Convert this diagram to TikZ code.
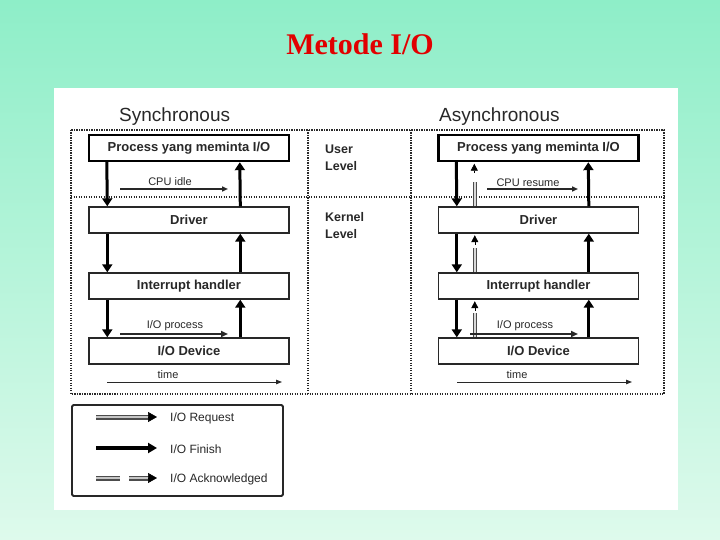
\documentclass[tikz,border=0pt]{standalone}
\usepackage{fontspec}
\setmainfont{Liberation Sans}
\newfontfamily\titlefont{Liberation Serif}
\usetikzlibrary{arrows.meta}
\definecolor{bgtop}{RGB}{142,238,200}
\definecolor{bgbot}{RGB}{222,250,236}
\definecolor{titlered}{RGB}{225,0,0}
\definecolor{ink}{RGB}{40,40,40}
\tikzset{
  layerbox/.style={draw=ink, line width=1.4pt, fill=white, minimum width=200pt, minimum height=26pt, inner sep=0pt, font=\bfseries\fontsize{13}{13}\selectfont, text=ink},
  procbox/.style={layerbox, line width=2.4pt, draw=black},
  dots/.style={draw=ink, line width=1.4pt, dash pattern=on 1.3pt off 1.2pt},
  fin/.style={draw=black, line width=3pt, -{Triangle[length=8pt,width=10pt]}},
  ackline/.style={draw=gray!60!black, double=gray!30, line width=1.1pt, double distance=1.8pt},
  reqline/.style={draw=gray!60!black, double=gray!45, line width=1.2pt, double distance=2.6pt},
  headonly/.style={draw=black, line width=0.6pt, -{Triangle[length=7pt,width=7pt]}},
  bighead/.style={draw=black, line width=0.6pt, -{Triangle[length=9pt,width=10pt]}},
  cpuarrow/.style={draw=ink, line width=1.5pt, -{Triangle[length=6pt,width=5pt]}},
  procarrow/.style={draw=ink, line width=2.2pt, -{Triangle[length=7pt,width=6pt]}},
  timearrow/.style={draw=ink, line width=1pt, -{Triangle[length=6pt,width=4.5pt]}},
  smalltext/.style={font=\fontsize{11}{11}\selectfont, text=ink, inner sep=0pt},
  legtext/.style={font=\fontsize{12}{12}\selectfont, text=ink, anchor=west, inner sep=0pt},
  leveltext/.style={font=\bfseries\fontsize{12.5}{17}\selectfont, text=ink, anchor=north west, align=left, inner sep=0pt},
  header/.style={font=\fontsize{19}{19}\selectfont, text=ink, anchor=west, inner sep=0pt}
}
\begin{document}
\begin{tikzpicture}[x=1pt,y=-1pt]
\useasboundingbox (0,0) rectangle (720,540);
\shade[top color=bgtop, bottom color=bgbot] (0,0) rectangle (720,540);
\fill[white] (54,88) rectangle (678,510);

\node[font=\titlefont\bfseries\fontsize{30}{30}\selectfont, text=titlered] (title) at (360,44) {Metode I/O};

\node[header] (synch) at (119,117) {Synchronous};
\node[header] (asynch) at (439,117) {Asynchronous};

% dotted frame
\draw[dots] (71,130) rectangle (664,394);
\draw[dots] (308,130) -- (308,394);
\draw[dots] (411,130) -- (411,394);
\draw[dots] (71,197) -- (664,197);

\node[leveltext] (ul) at (325,145) {User\\Level};
\node[leveltext] (kl) at (325,212) {Kernel\\Level};

% synchronous boxes
\node[procbox]  (sp) at (189,148) {Process yang meminta I/O};
\node[layerbox] (sd) at (189,220) {Driver};
\node[layerbox] (si) at (189,286) {Interrupt handler};
\node[layerbox] (so) at (189,351) {I/O Device};

% asynchronous boxes
\node[procbox]  (ap) at (538.5,148) {Process yang meminta I/O};
\node[layerbox] (ad) at (538.5,220) {Driver};
\node[layerbox] (ai) at (538.5,286) {Interrupt handler};
\node[layerbox] (ao) at (538.5,351) {I/O Device};

% synchronous arrows
\foreach \a/\b in {sp/sd, sd/si, si/so} {
  \draw[fin] ([xshift=19pt]\a.south west) -- ([xshift=19pt]\b.north west);
  \draw[fin] ([xshift=152pt]\b.north west) -- ([xshift=152pt]\a.south west);
}
% asynchronous arrows
\foreach \a/\b in {ap/ad, ad/ai, ai/ao} {
  \draw[fin] ([xshift=19pt]\a.south west) -- ([xshift=19pt]\b.north west);
  \draw[fin] ([xshift=151pt]\b.north west) -- ([xshift=151pt]\a.south west);
  \draw[ackline] ([xshift=37pt]\b.north west) -- ++(0,-24);
  \draw[headonly] ([xshift=37pt,yshift=-11pt]\a.south west) -- ([xshift=37pt,yshift=-1.5pt]\a.south west);
}

% CPU idle / resume
\coordinate (ci1) at (120,189); \coordinate (ci2) at (228,189);
\draw[cpuarrow] (ci1) -- (ci2);
\node[smalltext] (cit) at (170,182) {CPU idle};
\coordinate (cr1) at (487,189); \coordinate (cr2) at (578,189);
\draw[cpuarrow] (cr1) -- (cr2);
\node[smalltext] (crt) at (528,183) {CPU resume};

% I/O process
\coordinate (sp1) at (120,334); \coordinate (sp2) at (228,334);
\draw[procarrow] (sp1) -- (sp2);
\node[smalltext] (spt) at (175,326) {I/O process};
\coordinate (ap1) at (470,334); \coordinate (ap2) at (578,334);
\draw[procarrow] (ap1) -- (ap2);
\node[smalltext] (apt) at (525,326) {I/O process};

% time
\coordinate (st1) at (107,382); \coordinate (st2) at (282,382);
\draw[timearrow] (st1) -- (st2);
\node[smalltext] (stt) at (168,375) {time};
\coordinate (at1) at (457,382); \coordinate (at2) at (632,382);
\draw[timearrow] (at1) -- (at2);
\node[smalltext] (att) at (517,375) {time};

% legend
\node[draw=ink, line width=1.8pt, minimum width=211pt, minimum height=91pt, inner sep=0pt, rounded corners=1.5pt] (legend) at (177.5,450.5) {};
\coordinate (lr1) at (96,417); \coordinate (lr2) at (149,417); \coordinate (lr3) at (157,417);
\draw[reqline] (lr1) -- (lr2);
\draw[bighead] (lr2) -- (lr3);
\node[legtext] (lrt) at (170,418) {I/O Request};
\coordinate (lf1) at (96,448); \coordinate (lf2) at (157,448);
\draw[draw=black, line width=4.5pt, -{Triangle[length=9pt,width=10pt]}] (lf1) -- (lf2);
\node[legtext] (lft) at (170,449) {I/O Finish};
\coordinate (la1) at (96,478); \coordinate (la2) at (120,478);
\coordinate (la3) at (129,478); \coordinate (la4) at (149,478); \coordinate (la5) at (157,478);
\draw[reqline] (la1) -- (la2);
\draw[reqline] (la3) -- (la4);
\draw[bighead] (la4) -- (la5);
\node[legtext] (lat) at (170,479) {I/O Acknowledged};
\end{tikzpicture}
\end{document}
